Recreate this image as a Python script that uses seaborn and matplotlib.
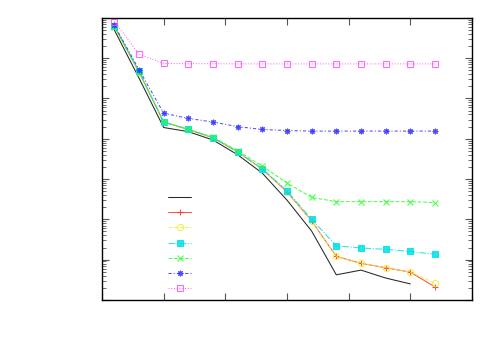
import numpy as np
import pandas as pd
import matplotlib
matplotlib.use("Agg")
import matplotlib.pyplot as plt
from matplotlib.lines import Line2D
import seaborn as sns

# x positions of the samples
steps = [1, 3, 5, 7, 9, 11, 13, 15, 17, 19, 21, 23, 25, 27]

# series values (log scale)
black_vals = [5.0e-1, 3.2e-2, 1.9e-3, 1.5e-3, 9.3e-4, 4.0e-4, 1.4e-4, 3.0e-5,
              5.1e-6, 4.2e-7, 5.5e-7, 3.5e-7, 2.5e-7]
red_vals = [6.2e-1, 4.6e-2, 2.6e-3, 1.7e-3, 1.05e-3, 4.7e-4, 1.75e-4, 4.8e-5,
            9.1e-6, 1.2e-6, 8.1e-7, 6.3e-7, 4.9e-7, 2.1e-7]
yellow_vals = [6.2e-1, 4.6e-2, 2.6e-3, 1.7e-3, 1.05e-3, 4.7e-4, 1.75e-4, 4.8e-5,
               9.1e-6, 1.2e-6, 8.1e-7, 6.3e-7, 4.9e-7, 2.6e-7]
cyan_vals = [6.3e-1, 4.7e-2, 2.6e-3, 1.7e-3, 1.07e-3, 4.8e-4, 1.8e-4, 5.1e-5,
             1.0e-5, 2.2e-6, 1.95e-6, 1.8e-6, 1.6e-6, 1.35e-6]
green_vals = [6.0e-1, 4.5e-2, 2.6e-3, 1.7e-3, 1.1e-3, 5.0e-4, 2.1e-4, 8.0e-5,
              3.5e-5, 2.75e-5, 2.75e-5, 2.75e-5, 2.75e-5, 2.6e-5]
blue_vals = [6.6e-1, 5.2e-2, 4.3e-3, 3.2e-3, 2.6e-3, 2.0e-3, 1.7e-3, 1.6e-3,
             1.55e-3, 1.55e-3, 1.55e-3, 1.55e-3, 1.55e-3, 1.55e-3]
pink_vals = [8.1e-1, 1.26e-1, 7.4e-2, 7.3e-2, 7.3e-2, 7.2e-2, 7.2e-2, 7.2e-2,
             7.2e-2, 7.2e-2, 7.2e-2, 7.2e-2, 7.2e-2, 7.2e-2]

# values, colour, line style, marker, marker size, fill
series = [
    (black_vals, "#000000", "-", None, 4.5, "full"),
    (red_vals, "#ff3030", "-", "+", 5, "full"),
    (yellow_vals, "#f0f030", "--", "o", 4.5, "none"),
    (cyan_vals, "#00e0e8", "-.", "s", 4.2, "full"),
    (green_vals, "#30ff30", "--", "x", 4.2, "full"),
    (blue_vals, "#3030ff", (0, (3, 2, 1, 2)), (8, 2, 0), 4, "full"),
    (pink_vals, "#ff50ff", ":", "s", 4.5, "none"),
]

sns.set_style("ticks")

fig = plt.figure(figsize=(5, 3.5), dpi=100)
ax = fig.add_axes([0.204, 0.143, 0.74, 0.806])

handles = []
for vals, color, ls, mk, ms, fill in series:
    style = dict(color=color, linestyle=ls, marker=mk, markersize=ms,
                 fillstyle=fill, markeredgewidth=0.8, markeredgecolor=color,
                 linewidth=0.75, alpha=0.85)
    df = pd.DataFrame({"x": steps[:len(vals)], "y": vals})
    sns.lineplot(data=df, x="x", y="y", ax=ax, **style)
    handles.append(Line2D([], [], **style))

ax.set_yscale("log")
ax.set_xlim(0, 30)
ax.set_ylim(1e-7, 1e0)
ax.set_xticks([0, 5, 10, 15, 20, 25, 30])
ax.set_xticklabels([])
ax.yaxis.set_major_locator(matplotlib.ticker.LogLocator(base=10, numticks=10))
ax.yaxis.set_minor_locator(matplotlib.ticker.LogLocator(base=10, subs=np.arange(2, 10), numticks=10))
ax.yaxis.set_major_formatter(matplotlib.ticker.NullFormatter())
ax.yaxis.set_minor_formatter(matplotlib.ticker.NullFormatter())
ax.set_xlabel("")
ax.set_ylabel("")
ax.tick_params(which="both", direction="in", top=True, right=True, color="#555555")
ax.tick_params(which="major", length=5)
ax.tick_params(which="minor", length=3)
for sp in ax.spines.values():
    sp.set_linewidth(1.0)
    sp.set_color("black")

ax.legend(handles, [""] * len(handles), loc="upper left",
          bbox_to_anchor=(0.325, 0.465), bbox_transform=fig.transFigure,
          frameon=False, fontsize=8, handlelength=2.1, labelspacing=0.47,
          borderpad=0, handletextpad=0.3)

fig.savefig("out.png", dpi=100)
